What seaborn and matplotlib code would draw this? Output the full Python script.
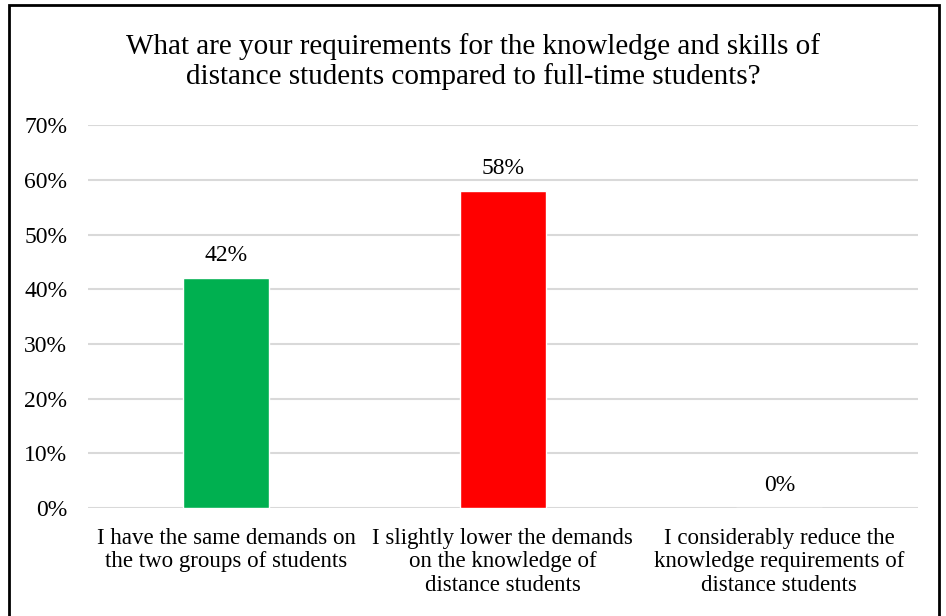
import matplotlib
matplotlib.use("Agg")
import matplotlib.pyplot as plt
import seaborn as sns
import pandas as pd
from matplotlib.patches import Rectangle
from matplotlib.ticker import PercentFormatter

# Data
categories = [
    "I have the same demands on\nthe two groups of students",
    "I slightly lower the demands\non the knowledge of\ndistance students",
    "I considerably reduce the\nknowledge requirements of\ndistance students",
]
shares = [0.42, 0.58, 0.00]
bar_colors = ["#00B050", "#FF0000", "#A5A5A5"]
title = ("What are your requirements for the knowledge and skills of\n"
         "distance students compared to full-time students?")

df = pd.DataFrame({"Answer": categories, "Share": shares})

sns.set_style("white")
plt.rcParams["font.family"] = ["Liberation Serif", "DejaVu Serif"]
plt.rcParams["text.color"] = "black"

fig = plt.figure(figsize=(9.46, 6.16), dpi=100)
ax = fig.add_axes([0.093, 0.175, 0.877, 0.622])

sns.barplot(data=df, x="Answer", y="Share", hue="Answer",
            palette=bar_colors, width=0.31, legend=False, ax=ax,
            saturation=1)

ax.set_ylim(0, 0.7)
ax.set_yticks([i / 10 for i in range(8)])
ax.yaxis.set_major_formatter(PercentFormatter(1.0, decimals=0))
ax.grid(axis="y", color="#D9D9D9", linewidth=1.5)
ax.set_axisbelow(True)
for s in ax.spines.values():
    s.set_visible(False)
ax.tick_params(axis="y", length=0, labelsize=17, labelcolor="black", pad=15)
ax.tick_params(axis="x", length=0, labelsize=16.5, labelcolor="black", pad=14)
for lbl in ax.get_xticklabels():
    lbl.set_linespacing(1.17)
ax.set_xlabel("")
ax.set_ylabel("")

for i, v in enumerate(shares):
    ax.text(i, v + 0.022, f"{v:.0%}", ha="center", va="bottom", fontsize=17,
            color="black")

fig.text(0.5, 0.9, title, ha="center", va="center", fontsize=21,
         linespacing=1.12, color="black")

# frame around the figure
fig.patches.append(Rectangle((0.009, -0.05), 0.984, 1.042,
                             transform=fig.transFigure, fill=False,
                             edgecolor="black", linewidth=2))

fig.savefig("out.png", dpi=100)
